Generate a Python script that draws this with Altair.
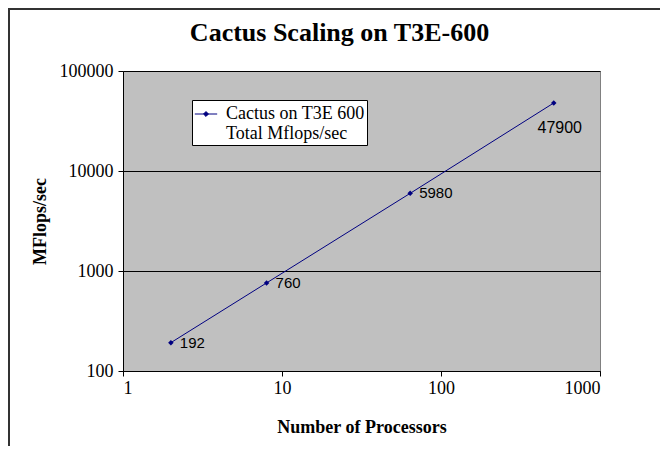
import altair as alt
import pandas as pd

processors = [2, 8, 64, 512]
mflops = [192, 760, 5980, 47900]
point_labels = ["192", "760", "5980", "47900"]
series_name = "Cactus on T3E 600 Total Mflops/sec"
x_ticks = [1, 10, 100, 1000]
y_ticks = [100, 1000, 10000, 100000]

df = pd.DataFrame({
    "procs": processors,
    "mflops": mflops,
    "label": point_labels,
    "series": [series_name] * len(processors),
    "idx": list(range(len(processors))),
})

NAVY = "#000080"
SERIF = "Liberation Serif"

x_enc = alt.X(
    "procs:Q",
    scale=alt.Scale(type="log", domain=[1, 1000]),
    axis=alt.Axis(
        title="Number of Processors",
        values=x_ticks,
        format="d",
        grid=False,
        labelPadding=3,
        titleBaseline="alphabetic",
        titleY=61,
    ),
)
y_enc = alt.Y(
    "mflops:Q",
    scale=alt.Scale(type="log", domain=[100, 100000]),
    axis=alt.Axis(
        title="MFlops/sec",
        values=y_ticks,
        format="d",
        grid=True,
        gridColor="black",
        gridWidth=1,
        labelPadding=5,
        titleBaseline="alphabetic",
        titleX=-78,
        titleY=150,
        titleAngle=270,
    ),
)

line = alt.Chart(df).mark_line(
    strokeWidth=1,
    point=alt.OverlayMarkDef(shape="diamond", size=30, filled=True, color=NAVY),
).encode(
    x=x_enc,
    y=y_enc,
    color=alt.Color(
        "series:N",
        scale=alt.Scale(range=[NAVY]),
        legend=alt.Legend(
            title=None,
            orient="none",
            legendX=69,
            legendY=29,
            fillColor="white",
            strokeColor="black",
            padding=2,
            symbolType="M-1,0H1M-0.22,0L0,-0.22L0.22,0L0,0.22Z",
            symbolSize=500,
            symbolStrokeWidth=1,
            symbolFillColor=NAVY,
            symbolStrokeColor=NAVY,
            labelFont=SERIF,
            labelFontSize=18,
            labelColor="black",
            labelLimit=400,
            labelOffset=8,
            labelExpr="['Cactus on T3E 600', 'Total Mflops/sec']",
        ),
    ),
)

labels_right = alt.Chart(df).transform_filter("datum.idx < 3").mark_text(
    align="left", baseline="middle", dx=9, font="Liberation Sans", fontSize=15, color="black"
).encode(x=x_enc, y=y_enc, text="label:N")

labels_below = alt.Chart(df).transform_filter("datum.idx == 3").mark_text(
    align="center", baseline="middle", dx=6, dy=25, font="Liberation Sans", fontSize=16, color="black"
).encode(x=x_enc, y=y_enc, text="label:N")

frame_left = alt.Chart(df).mark_rule(color="#333333", strokeWidth=2).encode(
    x=alt.value(-114), y=alt.value(-63), y2=alt.value(380)
)
frame_top = alt.Chart(df).mark_rule(color="#333333", strokeWidth=2).encode(
    x=alt.value(-115), x2=alt.value(545), y=alt.value(-62)
)

chart = alt.layer(frame_left, frame_top, line, labels_right, labels_below).properties(
    width=477,
    height=300,
    padding={"left": 115, "top": 63, "right": 60, "bottom": 75},
    autosize=alt.AutoSizeParams(type="none"),
    title=alt.TitleParams(
        "Cactus Scaling on T3E-600",
        font=SERIF,
        fontSize=26,
        fontWeight="bold",
        color="black",
        anchor="middle",
        frame="group",
        dx=-22,
        dy=60,
        baseline="alphabetic",
        offset=0,
    ),
).configure(
    background="white"
).configure_view(
    fill="#C0C0C0", stroke="#808080", strokeWidth=1
).configure_axis(
    labelFont=SERIF,
    labelFontSize=18,
    labelColor="black",
    titleFont=SERIF,
    titleFontSize=18,
    titleFontWeight="bold",
    titleColor="black",
    tickColor="black",
    tickSize=5,
    domainColor="black",
    domainWidth=1,
)

chart.save("out.html", embed_options={"renderer": "svg", "actions": False})
